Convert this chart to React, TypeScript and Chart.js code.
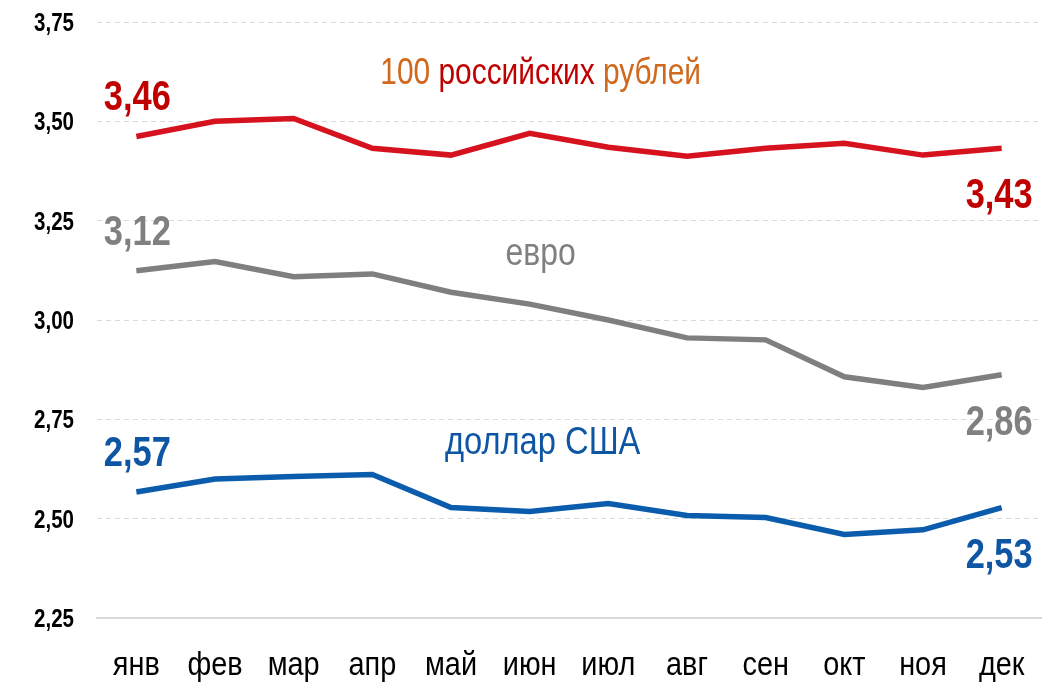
import { useEffect, useRef } from "react";
import { Chart, registerables } from "chart.js";

Chart.register(...registerables);

const FONT = "'Liberation Sans Narrow', 'Arial Narrow', 'Liberation Sans', Arial, sans-serif";
const SX = 0.82; // horizontal condensing to imitate a narrow face

const months = ["янв", "фев", "мар", "апр", "май", "июн", "июл", "авг", "сен", "окт", "ноя", "дек"];
const rubValues = [3.462, 3.5, 3.507, 3.432, 3.415, 3.47, 3.435, 3.412, 3.432, 3.445, 3.415, 3.432];
const eurValues = [3.124, 3.147, 3.109, 3.116, 3.07, 3.04, 3.0, 2.955, 2.95, 2.857, 2.83, 2.862];
const usdValues = [2.567, 2.6, 2.606, 2.611, 2.528, 2.518, 2.538, 2.508, 2.503, 2.46, 2.472, 2.528];
const yTicks = [2.25, 2.5, 2.75, 3.0, 3.25, 3.5, 3.75];

const lineColors = ["#D5121D", "#7F7F7F", "#0B5CAD"];
const valueLabelColors = ["#C00000", "#808080", "#0E56A4"];

const fmt = (v: number) => v.toFixed(2).replace(".", ",");

function drawText(
  ctx: CanvasRenderingContext2D,
  text: string,
  x: number,
  y: number,
  align: "left" | "center" | "right",
  font: string,
  color: string,
  sx = SX
) {
  ctx.save();
  ctx.font = font;
  ctx.fillStyle = color;
  ctx.textAlign = "left";
  ctx.textBaseline = "alphabetic";
  const w = ctx.measureText(text).width * sx;
  const left = align === "center" ? x - w / 2 : align === "right" ? x - w : x;
  ctx.translate(left, y);
  ctx.scale(sx, 1);
  ctx.fillText(text, 0, 0);
  ctx.restore();
  return w;
}

const labelPlugin = {
  id: "textLayer",
  afterDraw(chart: any) {
    const ctx = chart.ctx as CanvasRenderingContext2D;
    const xs = chart.scales.x;
    const ys = chart.scales.y;
    const area = chart.chartArea;

    // y tick labels
    yTicks.forEach((v) => {
      drawText(ctx, fmt(v), area.left - 23, ys.getPixelForValue(v) + 9, "right", `bold 25px ${FONT}`, "#000");
    });
    // x tick labels
    months.forEach((m, i) => {
      drawText(ctx, m, xs.getPixelForValue(i), area.bottom + 57, "center", `34px ${FONT}`, "#000", 0.85);
    });

    // first / last value labels
    chart.data.datasets.forEach((ds: any, i: number) => {
      const meta = chart.getDatasetMeta(i);
      const n = meta.data.length;
      const first = meta.data[0];
      const last = meta.data[n - 1];
      drawText(ctx, fmt(ds.data[0]), first.x + 1, first.y - 26, "center", `bold 42px ${FONT}`, valueLabelColors[i]);
      drawText(ctx, fmt(ds.data[n - 1]), last.x + 31, last.y + 60, "right", `bold 42px ${FONT}`, valueLabelColors[i]);
    });

    // series names
    const rubFont = `36px ${FONT}`;
    const nameFont = `38px ${FONT}`;
    const cx = xs.getPixelForValue(5.14);
    const parts: [string, string][] = [
      ["100 ", "#D0691E"],
      ["российских", "#C00000"],
      [" рублей", "#D0691E"],
    ];
    ctx.save();
    ctx.font = rubFont;
    const total = parts.reduce((s, p) => s + ctx.measureText(p[0]).width * 0.83, 0);
    ctx.restore();
    let x = cx - total / 2;
    const yR = ys.getPixelForValue(3.593);
    parts.forEach(([t, c]) => {
      x += drawText(ctx, t, x, yR, "left", rubFont, c, 0.83);
    });
    drawText(ctx, "евро", cx, ys.getPixelForValue(3.139), "center", nameFont, "#808080", 0.84);
    drawText(ctx, "доллар США", cx + 2, ys.getPixelForValue(2.663), "center", nameFont, "#0E56A4", 0.86);
  },
};

export default function App() {
  const ref = useRef<HTMLCanvasElement | null>(null);
  useEffect(() => {
    document.body.style.margin = "0";
    const canvas = ref.current;
    if (!canvas) return;
    const chart = new Chart(canvas, {
      type: "line",
      data: {
        labels: months,
        datasets: [
          { data: rubValues, borderColor: lineColors[0], borderWidth: 5.5, pointRadius: 0, tension: 0 },
          { data: eurValues, borderColor: lineColors[1], borderWidth: 5.5, pointRadius: 0, tension: 0 },
          { data: usdValues, borderColor: lineColors[2], borderWidth: 5.5, pointRadius: 0, tension: 0 },
        ],
      },
      options: {
        animation: false,
        responsive: false,
        maintainAspectRatio: false,
        layout: { padding: { top: 22, right: 15, left: 0, bottom: 0 } },
        plugins: { legend: { display: false }, tooltip: { enabled: false } },
        scales: {
          x: {
            offset: true,
            grid: { display: false, drawTicks: false },
            border: { display: true, color: "#D9D9D9", width: 2 },
            ticks: { display: false },
            afterFit: (s: any) => { s.height = 64; },
          },
          y: {
            min: 2.25,
            max: 3.75,
            afterBuildTicks: (s: any) => { s.ticks = yTicks.map((v) => ({ value: v })); },
            grid: { color: "#D9D9D9", lineWidth: 1, drawTicks: false },
            border: { display: false, dash: [5, 4] },
            ticks: { display: false },
            afterFit: (s: any) => { s.width = 97; },
          },
        },
      },
      plugins: [labelPlugin],
    } as any);
    return () => chart.destroy();
  }, []);
  return <canvas ref={ref} width={1056} height={682} style={{ display: "block" }} />;
}
